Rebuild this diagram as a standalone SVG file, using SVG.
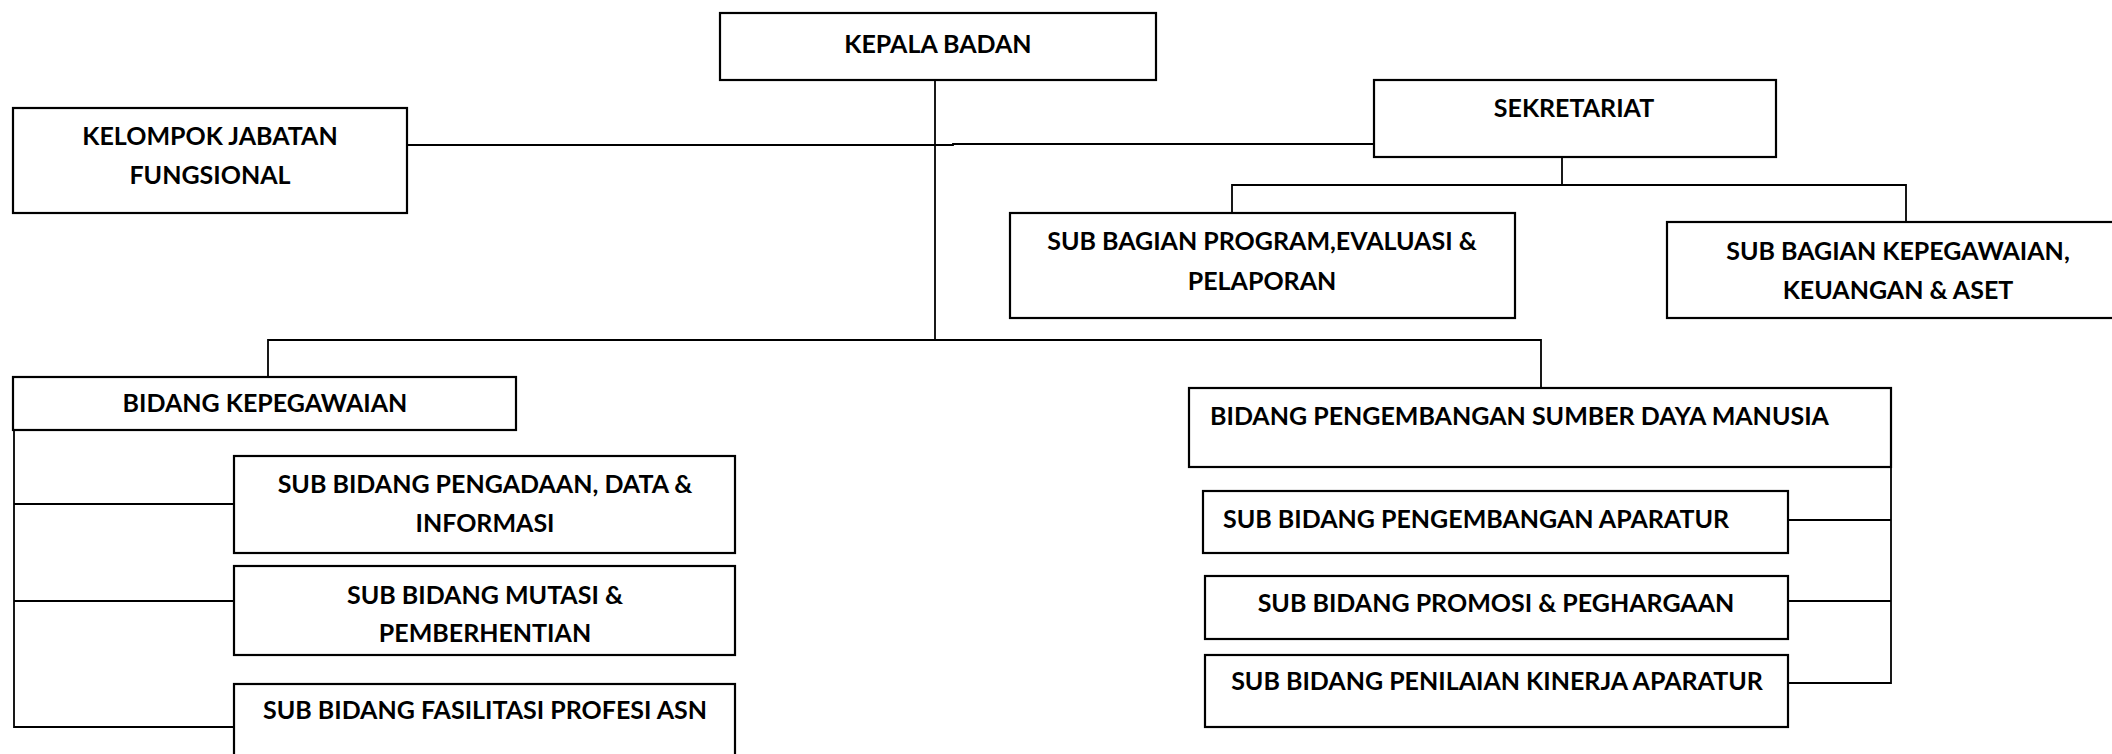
<svg xmlns="http://www.w3.org/2000/svg" width="2112" height="754" viewBox="0 0 2112 754">
<style>
rect.box{fill:#fff;stroke:#000;stroke-width:2.2}
.c line,.c polyline{stroke:#000;stroke-width:1.8;fill:none}
text{font-family:Lato,"Liberation Sans",sans-serif;font-weight:bold;font-size:25px;fill:#000}
.m{text-anchor:middle}
</style>
<rect width="2112" height="754" fill="#fff"/>
<g class="c" id="connectors">
<line x1="935" y1="69" x2="935" y2="340"/>
<polyline points="407,145 953,145 953,144 1374,144"/>
<polyline points="268,377 268,340 1541,340 1541,388"/>
<polyline points="1562,155 1562,185"/>
<polyline points="1232,213 1232,185 1906,185 1906,222"/>
<polyline points="14,430 14,727 234,727"/>
<line x1="14" y1="504" x2="234" y2="504"/>
<line x1="14" y1="601" x2="234" y2="601"/>
<polyline points="1891,467 1891,683 1788,683"/>
<line x1="1788" y1="520" x2="1891" y2="520"/>
<line x1="1788" y1="601" x2="1891" y2="601"/>
</g>
<g id="kepala"><rect class="box" x="720" y="13" width="436" height="67"/><text class="m" x="938" y="53">KEPALA BADAN</text></g>
<g id="kjf"><rect class="box" x="13" y="108" width="394" height="105"/><text class="m" x="210" y="145">KELOMPOK JABATAN</text><text class="m" x="210" y="184">FUNGSIONAL</text></g>
<g id="sekretariat"><rect class="box" x="1374" y="80" width="402" height="77"/><text class="m" x="1574" y="117">SEKRETARIAT</text></g>
<g id="sbp"><rect class="box" x="1010" y="213" width="505" height="105"/><text class="m" x="1262" y="250">SUB BAGIAN PROGRAM,EVALUASI &amp;</text><text class="m" x="1262" y="290">PELAPORAN</text></g>
<g id="sbk"><rect class="box" x="1667" y="222" width="463" height="96"/><text class="m" x="1898" y="260">SUB BAGIAN KEPEGAWAIAN,</text><text class="m" x="1898" y="299">KEUANGAN &amp; ASET</text></g>
<g id="bk"><rect class="box" x="13" y="377" width="503" height="53"/><text class="m" x="265" y="412">BIDANG KEPEGAWAIAN</text></g>
<g id="sb1"><rect class="box" x="234" y="456" width="501" height="97"/><text class="m" x="485" y="493">SUB BIDANG PENGADAAN, DATA &amp;</text><text class="m" x="485" y="532">INFORMASI</text></g>
<g id="sb2"><rect class="box" x="234" y="566" width="501" height="89"/><text class="m" x="485" y="604">SUB BIDANG MUTASI &amp;</text><text class="m" x="485" y="642">PEMBERHENTIAN</text></g>
<g id="sb3"><rect class="box" x="234" y="684" width="501" height="90"/><text class="m" x="485" y="719">SUB BIDANG FASILITASI PROFESI ASN</text></g>
<g id="bpsdm"><rect class="box" x="1189" y="388" width="702" height="79"/><text x="1210" y="425">BIDANG PENGEMBANGAN SUMBER DAYA MANUSIA</text></g>
<g id="sbpa"><rect class="box" x="1203" y="491" width="585" height="62"/><text x="1223" y="528">SUB BIDANG PENGEMBANGAN APARATUR</text></g>
<g id="sbpp"><rect class="box" x="1205" y="576" width="583" height="63"/><text class="m" x="1496" y="612">SUB BIDANG PROMOSI &amp; PEGHARGAAN</text></g>
<g id="sbpka"><rect class="box" x="1205" y="655" width="583" height="72"/><text class="m" x="1497" y="690">SUB BIDANG PENILAIAN KINERJA APARATUR</text></g>
</svg>
